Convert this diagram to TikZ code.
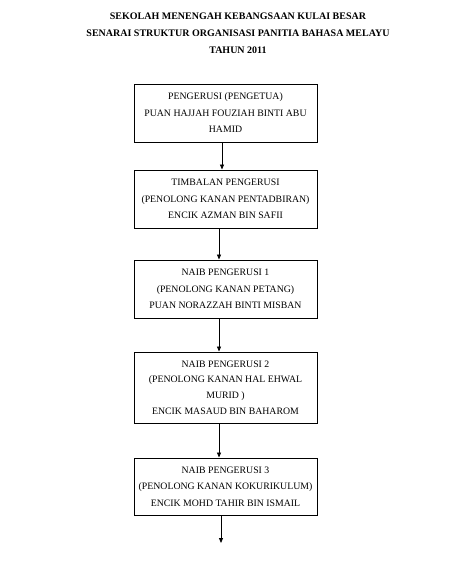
\documentclass[tikz,border=0pt]{standalone}
\usepackage{fontspec}
\setmainfont{Liberation Serif}
\usetikzlibrary{arrows.meta}
\begin{document}
\begin{tikzpicture}[x=1pt,y=-1pt,
  orgbox/.style={draw,line width=0.9pt,minimum width=183pt,align=center,font=\fontsize{9.8}{16.5}\selectfont,inner sep=0pt},
  titletxt/.style={font=\bfseries\fontsize{10}{17}\selectfont,align=center},
  link/.style={-{Triangle[length=5pt,width=4pt]},line width=0.8pt}]
\useasboundingbox (0,0) rectangle (474,572);
\fill[white] (0,0) rectangle (474,572);
\node[titletxt] (title) at (238,33) {SEKOLAH MENENGAH KEBANGSAAN KULAI BESAR\\SENARAI STRUKTUR ORGANISASI PANITIA BAHASA MELAYU\\TAHUN 2011};
\node[orgbox,minimum height=58pt] (b1) at (225.5,113) {PENGERUSI (PENGETUA)\\PUAN HAJJAH FOUZIAH BINTI ABU\\HAMID};
\node[orgbox,minimum height=58pt] (b2) at (225.5,199) {TIMBALAN PENGERUSI\\(PENOLONG KANAN PENTADBIRAN)\\ENCIK AZMAN BIN SAFII};
\node[orgbox,minimum height=58pt] (b3) at (225.5,289) {NAIB PENGERUSI 1\\(PENOLONG KANAN PETANG)\\PUAN NORAZZAH BINTI MISBAN};
\node[orgbox,minimum height=71pt,font=\fontsize{9.8}{15.8}\selectfont] (b4) at (225.5,387.5) {NAIB PENGERUSI 2\\(PENOLONG KANAN HAL EHWAL\\MURID )\\ENCIK MASAUD BIN BAHAROM};
\node[orgbox,minimum height=57pt] (b5) at (225.5,486.5) {NAIB PENGERUSI 3\\(PENOLONG KANAN KOKURIKULUM)\\ENCIK MOHD TAHIR BIN ISMAIL};
\coordinate (end) at (221,543);
\draw[link] (b1.south -| 222,0) -- (b2.north -| 222,0);
\draw[link] (b2.south -| 219,0) -- (b3.north -| 219,0);
\draw[link] (b3.south -| 219,0) -- (b4.north -| 219,0);
\draw[link] (b4.south -| 219,0) -- (b5.north -| 219,0);
\draw[link] (b5.south -| 221,0) -- (end);
\end{tikzpicture}
\end{document}
